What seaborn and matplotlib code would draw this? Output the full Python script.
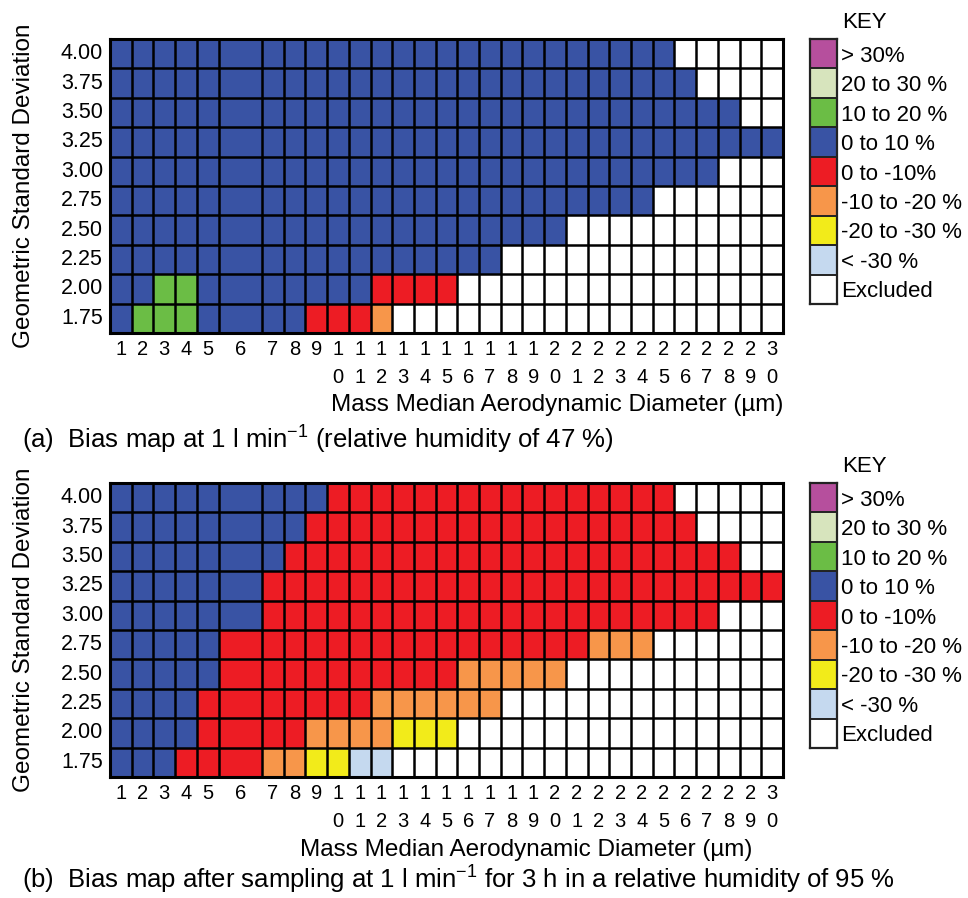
import numpy as np
import pandas as pd
import matplotlib
matplotlib.use("Agg")
import matplotlib.pyplot as plt
from matplotlib.colors import ListedColormap
import seaborn as sns

sns.set_style("white")
plt.rcParams['font.family'] = ['Liberation Sans', 'DejaVu Sans']
plt.rcParams['mathtext.default'] = 'regular'
plt.rcParams['text.color'] = 'black'
plt.rcParams['axes.labelcolor'] = 'black'
plt.rcParams['xtick.color'] = 'black'
plt.rcParams['ytick.color'] = 'black'

# Bias classes (key order) and their colours
key_labels = ["> 30%", "20 to 30 %", "10 to 20 %", "0 to 10 %", "0 to -10%",
              "-10 to -20 %", "-20 to -30 %", "< -30 %", "Excluded"]
key_codes = ["P", "L", "G", "B", "R", "O", "Y", "C", "W"]
key_colors = ["#b64f9d", "#d7e4bd", "#6bbd45", "#3953a4", "#ed1c24",
              "#f7964a", "#f2eb1a", "#c5d9ef", "#ffffff"]

gsd = ["4.00", "3.75", "3.50", "3.25", "3.00", "2.75", "2.50", "2.25", "2.00", "1.75"]
mmad = list(range(1, 31))

# one string per GSD row, one letter per MMAD column (1..30)
map_a = [
    "BBBBB BBBBB BBBBB BBBBB BBBBB WWWWW",
    "BBBBB BBBBB BBBBB BBBBB BBBBB BWWWW",
    "BBBBB BBBBB BBBBB BBBBB BBBBB BBBWW",
    "BBBBB BBBBB BBBBB BBBBB BBBBB BBBBB",
    "BBBBB BBBBB BBBBB BBBBB BBBBB BBWWW",
    "BBBBB BBBBB BBBBB BBBBB BBBBW WWWWW",
    "BBBBB BBBBB BBBBB BBBBB WWWWW WWWWW",
    "BBBBB BBBBB BBBBB BBWWW WWWWW WWWWW",
    "BBGGB BBBBB BRRRR WWWWW WWWWW WWWWW",
    "BGGGB BBBRR ROWWW WWWWW WWWWW WWWWW",
]
map_b = [
    "BBBBB BBBBR RRRRR RRRRR RRRRR WWWWW",
    "BBBBB BBBRR RRRRR RRRRR RRRRR RWWWW",
    "BBBBB BBRRR RRRRR RRRRR RRRRR RRRWW",
    "BBBBB BRRRR RRRRR RRRRR RRRRR RRRRR",
    "BBBBB BRRRR RRRRR RRRRR RRRRR RRWWW",
    "BBBBB RRRRR RRRRR RRRRR ROOOW WWWWW",
    "BBBBB RRRRR RRRRR OOOOO WWWWW WWWWW",
    "BBBBR RRRRR ROOOO OOWWW WWWWW WWWWW",
    "BBBBR RRROO OOYYY WWWWW WWWWW WWWWW",
    "BBBRR ROOYY CCWWW WWWWW WWWWW WWWWW",
]

captions = ["(a)  Bias map at 1 l min$^{-1}$ (relative humidity of 47 %)",
            "(b)  Bias map after sampling at 1 l min$^{-1}$ for 3 h in a relative humidity of 95 %"]

cmap = ListedColormap(key_colors)
W, H = 968, 898
fig = plt.figure(figsize=(W / 100, H / 100), dpi=100)


def to_frame(rows):
    codes = [[key_codes.index(c) for c in r.replace(" ", "")] for r in rows]
    df = pd.DataFrame(codes, index=gsd, columns=mmad)
    # the 6 um column is drawn twice as wide in the original
    cols = []
    for c in mmad:
        cols.append(c)
        if c == 6:
            cols.append(c)
    return df[cols]


def draw_map(rows, top, caption, cap_x, cap_y, xlab_x, xlab_y):
    df = to_frame(rows)
    ax = fig.add_axes([110 / W, 1 - (top + 294) / H, 673 / W, 294 / H])
    sns.heatmap(df, ax=ax, cmap=cmap, vmin=-0.5, vmax=8.5, cbar=False,
                linewidths=0, xticklabels=False, yticklabels=True)
    nrow, ncol = df.shape
    for y in range(nrow + 1):
        ax.axhline(y, color="black", lw=1.8)
    for x in range(ncol + 1):
        if x == 6:
            continue
        ax.axvline(x, color="black", lw=1.8)
    for s in ax.spines.values():
        s.set_visible(True)
        s.set_color("black")
        s.set_linewidth(2.2)
    centers = [c - 0.5 for c in range(1, 6)] + [6.0] + [c + 0.5 for c in range(7, 31)]
    ax.set_xticks(centers)
    ax.set_xticklabels(["\n".join(str(m)) for m in mmad], fontsize=14.5,
                       linespacing=1.6, va="top")
    ax.set_yticklabels(gsd, rotation=0, fontsize=15.5)
    ax.tick_params(length=0, pad=5)
    ax.set_xlabel("")
    ax.set_ylabel("Geometric Standard Deviation", fontsize=17.5)
    ax.yaxis.set_label_coords((35 - 110) / 673, 0.5)
    fig.text(xlab_x / W, 1 - xlab_y / H, "Mass Median Aerodynamic Diameter (µm)",
             fontsize=17.5, ha="center", va="center")
    fig.text(cap_x / W, 1 - cap_y / H, caption, fontsize=18.5, ha="left", va="center")

    # key
    kax = fig.add_axes([810 / W, 1 - (top + 265) / H, 27 / W, 265 / H])
    kdf = pd.DataFrame({"key": list(range(len(key_labels)))}, index=key_labels)
    sns.heatmap(kdf, ax=kax, cmap=cmap, vmin=-0.5, vmax=8.5, cbar=False,
                linewidths=0, xticklabels=False, yticklabels=True)
    for y in range(len(key_labels) + 1):
        kax.axhline(y, color="#222222", lw=1.4)
    for s in kax.spines.values():
        s.set_visible(True)
        s.set_color("#222222")
        s.set_linewidth(1.6)
    kax.yaxis.tick_right()
    kax.set_yticklabels(key_labels, rotation=0, fontsize=16)
    kax.tick_params(length=0, pad=3)
    kax.set_ylabel("")
    fig.text(842 / W, 1 - (top - 17) / H, "KEY", fontsize=16, ha="left", va="center")


draw_map(map_a, 39, captions[0], 22, 440, 557, 405)
draw_map(map_b, 483, captions[1], 22, 880, 526, 850)

fig.savefig("out.png", dpi=100)
